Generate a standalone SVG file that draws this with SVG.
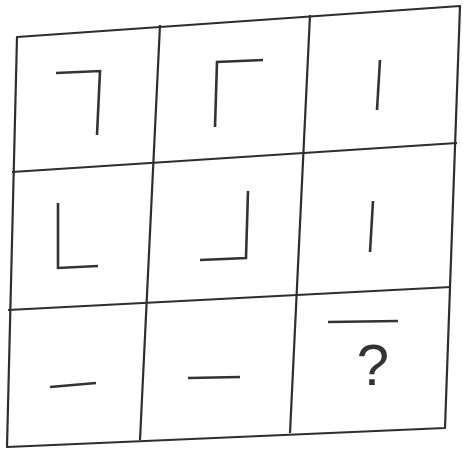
<svg xmlns="http://www.w3.org/2000/svg" width="463" height="450" viewBox="0 0 463 450">
<style>
.grid{fill:none;stroke:#2e2e2e;stroke-width:2.2;stroke-linejoin:round}
.g{fill:none;stroke:#333;stroke-width:2.6;stroke-linecap:butt;stroke-linejoin:miter}
.q{font-family:"Liberation Sans",Arial,sans-serif;font-size:58px;fill:#333}
</style>
<rect width="463" height="450" fill="#fff"/>
<g id="grid">
<path class="grid" d="M17,37 L460,6 L445,428 L7,447 Z"/>
<path class="grid" d="M12,172 L457,143"/>
<path class="grid" d="M8,310 L451,287"/>
<path class="grid" d="M160,25 L140,440"/>
<path class="grid" d="M310,15 L290,433"/>
</g>
<g id="cell-1-1"><path class="g" d="M56,73 L100,71 L97,135"/></g>
<g id="cell-1-2"><path class="g" d="M215,127 L217,62 L263,60"/></g>
<g id="cell-1-3"><path class="g" d="M380,60 L377,110"/></g>
<g id="cell-2-1"><path class="g" d="M58,203 L58,268 L98,266"/></g>
<g id="cell-2-2"><path class="g" d="M248,191 L246,258 L200,260"/></g>
<g id="cell-2-3"><path class="g" d="M373,201 L370,252"/></g>
<g id="cell-3-1"><path class="g" d="M50,387 L96,383"/></g>
<g id="cell-3-2"><path class="g" d="M188,378 L240,377"/></g>
<g id="cell-3-3"><path class="g" d="M328,322 L398,321"/><text class="q" x="373" y="385" text-anchor="middle">?</text></g>
</svg>
